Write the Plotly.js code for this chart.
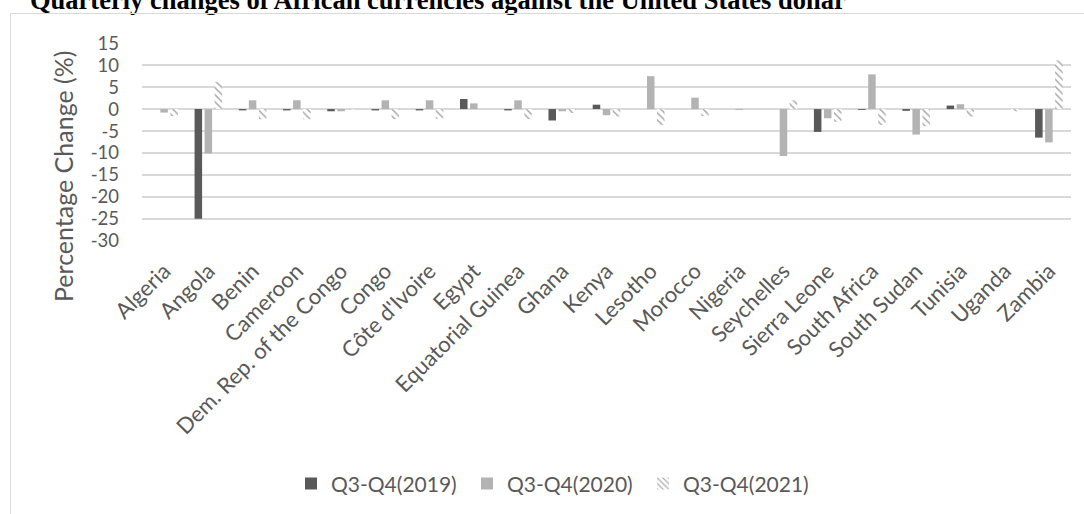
<!DOCTYPE html>
<html>
<head>
<meta charset="utf-8">
<script src="https://cdn.plot.ly/plotly-3.0.1.min.js"></script>
<style>
html,body{margin:0;padding:0;background:#fff;overflow:hidden;}
#chart{width:1084px;height:514px;position:relative;}
#frame{position:absolute;left:10px;top:13px;width:1100px;height:520px;border:1px solid #d9d9d9;box-sizing:border-box;pointer-events:none;}
</style>
</head>
<body>
<div id="chart"></div>
<script>
var chartTitle = "Quarterly changes of African currencies against the United States dollar";
var yTitle = "Percentage Change (%)";
var categories = ["Algeria","Angola","Benin","Cameroon","Dem. Rep. of the Congo","Congo","Côte d'Ivoire","Egypt","Equatorial Guinea","Ghana","Kenya","Lesotho","Morocco","Nigeria","Seychelles","Sierra Leone","South Africa","South Sudan","Tunisia","Uganda","Zambia"];
var seriesNames = ["Q3-Q4(2019)","Q3-Q4(2020)","Q3-Q4(2021)"];
var q2019 = [0, -25, -0.3, -0.3, -0.5, -0.3, -0.3, 2.3, -0.3, -2.6, 1.0, 0, 0, 0, 0, -5.2, -0.2, -0.4, 0.8, 0, -6.5];
var q2020 = [-0.8, -10.1, 2.0, 2.0, -0.5, 2.0, 2.0, 1.3, 2.0, -0.5, -1.4, 7.5, 2.6, -0.2, -10.7, -2.1, 7.9, -5.8, 1.1, 0, -7.6];
var q2021 = [-1.6, 6.2, -2.3, -2.3, -0.1, -2.3, -2.2, 0, -2.3, -0.9, -1.7, -3.6, -1.6, 0, 2.0, -2.9, -3.6, -3.9, -1.7, -0.5, 11.1];
var yTicks = [15, 10, 5, 0, -5, -10, -15, -20, -25, -30];

var FONT = "Lato, 'Open Sans', sans-serif";
var GRAY = "#595959";

var traces = [
  {type:"bar", name:seriesNames[0], x:categories, y:q2019,
   marker:{color:"#595959", line:{width:0}}},
  {type:"bar", name:seriesNames[1], x:categories, y:q2020,
   marker:{color:"#b3b3b3", line:{width:0}}},
  {type:"bar", name:seriesNames[2], x:categories, y:q2021,
   marker:{color:"#ffffff", line:{width:0},
     pattern:{shape:"\\", fgcolor:"#595959", bgcolor:"#ffffff", size:5, solidity:0.3, fillmode:"overlay"}}}
];

var layout = {
  width:1084, height:514,
  margin:{l:142, r:13, t:43, b:273, autoexpand:false},
  paper_bgcolor:"rgba(0,0,0,0)", plot_bgcolor:"rgba(0,0,0,0)",
  font:{family:FONT, color:GRAY, size:20},
  barmode:"group", bargap:0.32, bargroupgap:0.25,
  showlegend:true,
  xaxis:{type:"category", tickangle:-45, tickfont:{size:22, color:GRAY, family:FONT},
         showgrid:false, zeroline:false, showline:false, ticks:"", automargin:false, ticklabelstandoff:12},
  yaxis:{range:[-30.05,15.05], tickmode:"array", tickvals:yTicks, ticktext:yTicks.map(String),
         tickfont:{size:18.5, color:GRAY, family:FONT}, showgrid:true, gridcolor:"#d9d9d9", gridwidth:1.5,
         zeroline:true, zerolinecolor:"#d9d9d9", zerolinewidth:1.5, showline:false, ticks:"",
         ticklabelstandoff:22, automargin:false, fixedrange:true},
  legend:{orientation:"h", x:0.1604, xanchor:"left", y:-1.227, yanchor:"middle",
          font:{size:21, color:GRAY, family:FONT}, traceorder:"normal",
          entrywidth:131, entrywidthmode:"pixels", itemwidth:30, bgcolor:"rgba(0,0,0,0)"},
  annotations:[
    {text:"<b>"+chartTitle+"</b>", xref:"paper", yref:"paper", x:(28-142)/929, y:(241-17)/198,
     xanchor:"left", yanchor:"bottom", showarrow:false,
     font:{family:"'Liberation Serif', 'Times New Roman', serif", size:26.5, color:"#000"}},
    {text:yTitle, xref:"paper", yref:"paper", x:(63-142)/929, y:(241-177)/198, xanchor:"center", yanchor:"middle",
     textangle:-90, showarrow:false, font:{size:25, color:GRAY, family:FONT}}
  ]
};

Plotly.newPlot("chart", traces, layout, {staticPlot:true, displayModeBar:false}).then(function(){
  var f = document.createElement("div"); f.id = "frame";
  document.getElementById("chart").appendChild(f);
});
</script>
</body>
</html>
